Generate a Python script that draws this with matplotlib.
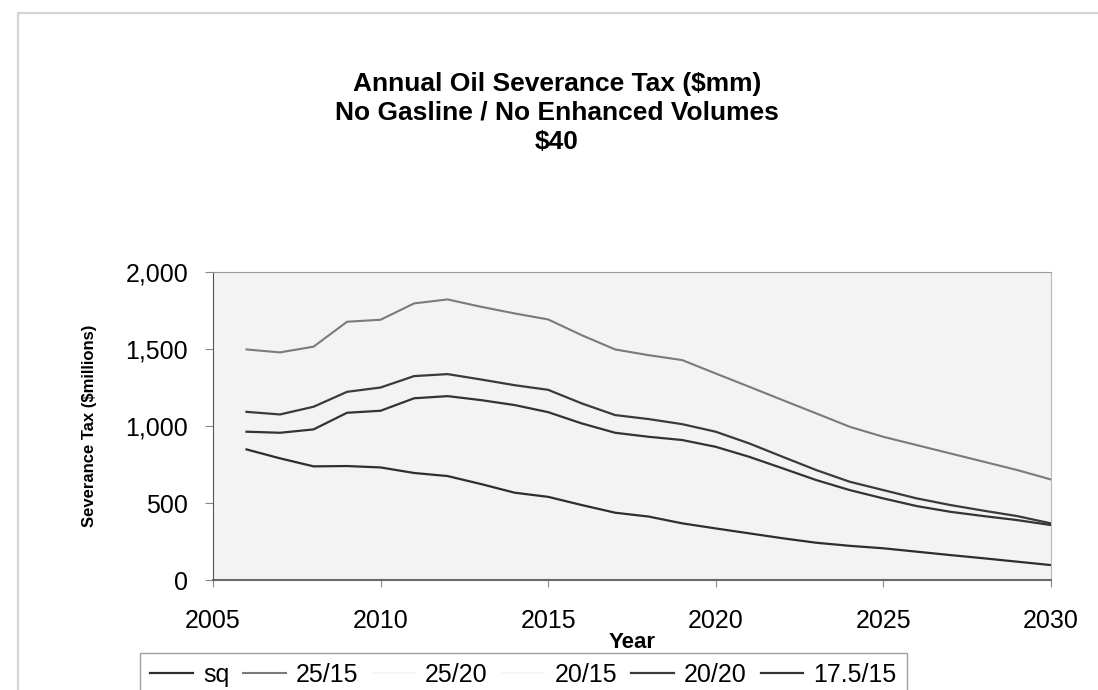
import matplotlib
matplotlib.use('Agg')
from matplotlib import pyplot as plt
from matplotlib.patches import Rectangle
from matplotlib.ticker import FuncFormatter

plt.rcParams['font.family'] = ['Liberation Sans', 'DejaVu Sans']
plt.rcParams['lines.solid_joinstyle'] = 'round'

years = list(range(2006, 2031))

# severance tax, $ millions, one value per year 2006-2030
sq = [848, 790, 738, 740, 731, 695, 675, 623, 567, 540, 487, 437, 412,
      368, 335, 303, 271, 242, 222, 206, 184, 162, 141, 119, 97]
t25_15 = [1497, 1478, 1515, 1677, 1690, 1796, 1822, 1774, 1731, 1692, 1590,
          1497, 1460, 1428, 1341, 1255, 1168, 1082, 995, 930, 876, 822, 768,
          714, 653]
t20_20 = [1092, 1075, 1125, 1222, 1250, 1324, 1337, 1302, 1265, 1235, 1147,
          1071, 1045, 1012, 963, 887, 800, 714, 638, 584, 530, 487, 450,
          415, 368]
t17_15 = [963, 956, 978, 1086, 1099, 1180, 1194, 1168, 1136, 1090, 1017,
          956, 930, 909, 865, 800, 725, 649, 584, 530, 480, 443, 415,
          389, 357]

labels = ['sq', '25/15', '25/20', '20/15', '20/20', '17.5/15']

fig = plt.figure(figsize=(10.98, 6.9), dpi=100)
fig.patch.set_facecolor('white')

# faint frame round the chart object
fig.patches.append(Rectangle((18 / 1098, -0.1), 1.2, 1.1 - 13 / 690,
                             transform=fig.transFigure, fill=False,
                             edgecolor='#d4d4d4', linewidth=1.6))

ax = fig.add_axes([0.194, 0.1594, 0.763, 0.4464])
ax.set_facecolor('#f3f3f3')

ax.plot(years, sq, color='#2e2e2e', linewidth=1.6, label=labels[0])
ax.plot(years, t25_15, color='#7a7a7a', linewidth=1.5, label=labels[1])
ax.plot([], [], color='#f6f6f6', linewidth=1.5, label=labels[2])
ax.plot([], [], color='#f6f6f6', linewidth=1.5, label=labels[3])
ax.plot(years, t20_20, color='#3a3a3a', linewidth=1.6, label=labels[4])
ax.plot(years, t17_15, color='#333333', linewidth=1.6, label=labels[5])

ax.set_xlim(2005, 2030)
ax.set_ylim(0, 2000)
ax.set_xticks(range(2005, 2031, 5))
ax.set_yticks(range(0, 2001, 500))
ax.yaxis.set_major_formatter(FuncFormatter(lambda v, p: f'{int(v):,}'))

ax.tick_params(axis='x', labelsize=18, length=5, pad=16, color='#888888')
ax.tick_params(axis='y', labelsize=18, length=6, pad=12, color='#888888')

ax.spines['left'].set_color('#555555')
ax.spines['bottom'].set_color('#6a6a6a')
ax.spines['bottom'].set_linewidth(1.5)
ax.spines['top'].set_color('#9a9a9a')
ax.spines['right'].set_color('#b8b8b8')

ax.set_xlabel('Year', fontsize=16, fontweight='bold', labelpad=-1)
ax.set_ylabel('Severance Tax ($millions)', fontsize=12, fontweight='bold',
              labelpad=20)

fig.text(557 / 1098, 1 - 84 / 690, 'Annual Oil Severance Tax ($mm)',
         ha='center', va='center', fontsize=19, fontweight='bold')
fig.text(557 / 1098, 1 - 113 / 690, 'No Gasline / No Enhanced Volumes',
         ha='center', va='center', fontsize=19, fontweight='bold')
fig.text(557 / 1098, 1 - 142 / 690, '$40',
         ha='center', va='center', fontsize=19, fontweight='bold')

leg = fig.legend(loc='upper left', bbox_to_anchor=(140 / 1098, 1 - 653 / 690),
                 ncol=6, fontsize=18, frameon=True, fancybox=False,
                 handlelength=1.7, handletextpad=0.42, columnspacing=0.55,
                 borderpad=0.4, borderaxespad=0)
leg.get_frame().set_edgecolor('#8a8a8a')
leg.get_frame().set_linewidth(1.0)

plt.savefig('out.png', dpi=100)
